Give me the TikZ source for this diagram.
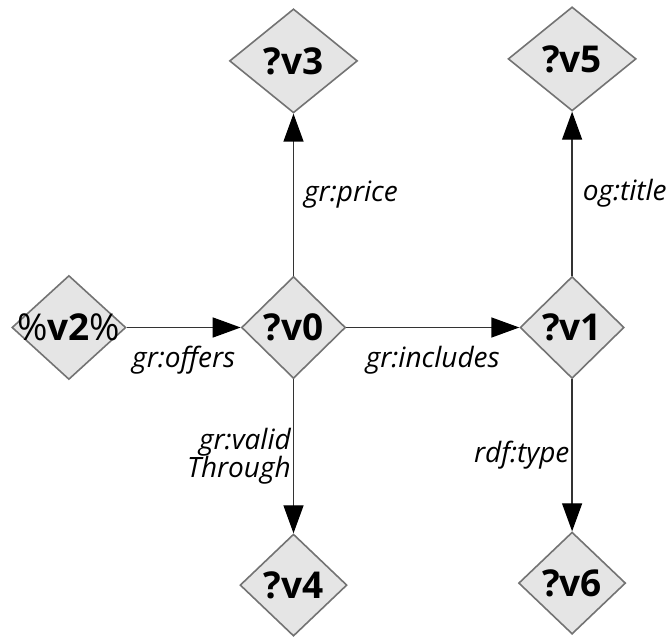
\documentclass[tikz,border=0pt]{standalone}
\usepackage{fontspec}
\setmainfont{Open Sans}
\usepackage{tikz}
\usetikzlibrary{positioning,shapes.geometric,arrows.meta}

\begin{document}
\begin{tikzpicture}[
    var/.style={diamond,draw=black!55,line width=0.8pt,fill=black!10,inner sep=0pt,
      minimum width=52pt,minimum height=51pt,font=\bfseries\fontsize{18.5}{20}\selectfont},
    wide/.style={minimum width=64pt,minimum height=52pt},
    link/.style={draw=black!80,line width=0.7pt,-{Triangle[length=14pt,width=10pt,color=black]}},
    lbl/.style={font=\itshape\fontsize{14}{14}\selectfont,inner sep=1pt,align=right}
  ]
  \useasboundingbox (-146.75pt,-154.25pt) rectangle (189.25pt,163.75pt);
  % variables
  \node [var] (v0) {?v0};
  \node [var,minimum width=57pt,minimum height=52pt,inner sep=-6pt,left=57pt of v0] (v2) {{\mdseries\%}v2{\mdseries\%}};
  \node [var,right=86.5pt of v0] (v1) {?v1};
  \node [var,wide,above=81pt of v0] (v3) {?v3};
  \node [var,wide,above=82pt of v1] (v5) {?v5};
  \node [var,minimum width=53.5pt,below=77pt of v0] (v4) {?v4};
  \node [var,minimum width=53.5pt,below=76pt of v1] (v6) {?v6};
  % properties
  \draw [link] (v2) -- node [lbl,below=8pt] {gr:offers} (v0);
  \draw [link] (v0) -- node [lbl,below=8pt] {gr:includes} (v1);
  \draw [link] (v0) -- node [lbl,right=4pt] {gr:price} (v3);
  \draw [link] (v1) -- node [lbl,right=4pt] {og:title} (v5);
  \draw [link] (v0) -- node [lbl,left=0pt] {gr:valid\\Through} (v4);
  \draw [link] (v1) -- node [lbl,left=0pt] {rdf:type} (v6);
\end{tikzpicture}
\end{document}
